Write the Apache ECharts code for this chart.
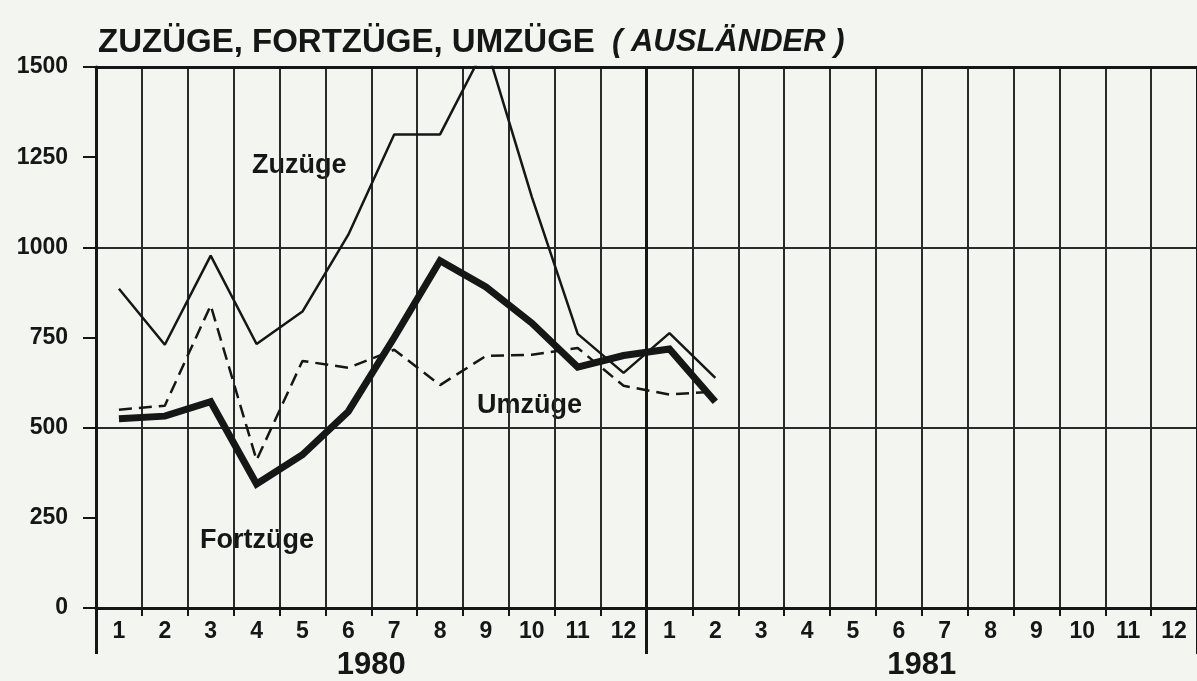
<!DOCTYPE html>
<html>
<head>
<meta charset="utf-8">
<title>Zuzüge, Fortzüge, Umzüge</title>
<script src="https://cdn.jsdelivr.net/npm/echarts@6/dist/echarts.min.js"></script>
<style>
  html, body { margin: 0; padding: 0; background: #f3f5f0; }
  #chart { width: 1197px; height: 681px; }
</style>
</head>
<body>
<div id="chart"></div>
<script>
// Monate 1980 + 1981
const months = ['1', '2', '3', '4', '5', '6', '7', '8', '9', '10', '11', '12',
  '1', '2', '3', '4', '5', '6', '7', '8', '9', '10', '11', '12']
const years = ['1980', '1981']
const yTicks = [0, 250, 500, 750, 1000, 1250, 1500]

const zuzuege = [885, 730, 977, 732, 822, 1035, 1313, 1313, 1560, 1140, 760, 652, 762, 638]
const fortzuege = [525, 532, 572, 344, 425, 545, 750, 963, 890, 790, 668, 700, 718, 572]
const umzuege = [550, 561, 839, 410, 685, 666, 716, 618, 699, 702, 721, 616, 592, 600]

const ink = '#161616'
const fontFamily = 'Liberation Sans, Arial, sans-serif'
const labelFont = { fontFamily: fontFamily, fontWeight: 'bold', color: ink }

const chart = echarts.init(document.getElementById('chart'), null, { renderer: 'canvas' })

const option = {
  backgroundColor: '#f3f5f0',
  animation: false,
  title: {
    left: 93,
    top: 21,
    text: '{a|ZUZÜGE, FORTZÜGE, UMZÜGE}{b|  ( AUSLÄNDER )}',
    textStyle: {
      rich: {
        a: { fontSize: 33, fontWeight: 'bold', fontFamily: fontFamily, color: ink },
        b: { fontSize: 31, fontStyle: 'italic', fontFamily: fontFamily, color: ink }
      }
    }
  },
  grid: { left: 96, top: 67, width: 1109, bottom: 69 },
  xAxis: [
    {
      // Monatsachse
      type: 'category',
      data: months,
      boundaryGap: true,
      axisLine: { lineStyle: { color: ink, width: 3 } },
      axisTick: { show: true, interval: 0, length: 8, lineStyle: { color: ink, width: 2 } },
      axisLabel: Object.assign({ interval: 0, fontSize: 23, margin: 12 }, labelFont),
      splitLine: { show: true, interval: 0, lineStyle: { color: '#2a2a2a', width: 2 } }
    },
    {
      // Jahre, mit langen Trennstrichen
      type: 'category',
      data: years,
      boundaryGap: true,
      position: 'bottom',
      axisLine: { show: false },
      axisTick: { show: true, length: 46, lineStyle: { color: ink, width: 3 } },
      axisLabel: Object.assign({ fontSize: 31, margin: 42 }, labelFont),
      splitLine: { show: true, lineStyle: { color: ink, width: 3 } }
    },
    {
      // oberer Rand
      type: 'category',
      data: months,
      position: 'top',
      axisLine: { lineStyle: { color: ink, width: 3 } },
      axisTick: { show: false },
      axisLabel: { show: false },
      splitLine: { show: false }
    }
  ],
  yAxis: [
    {
      type: 'value',
      min: yTicks[0],
      max: yTicks[yTicks.length - 1],
      interval: 250,
      axisLine: { show: true, lineStyle: { color: ink, width: 3 } },
      axisTick: { show: true, length: 13, lineStyle: { color: ink, width: 2 } },
      axisLabel: Object.assign({ fontSize: 23, margin: 28, formatter: function(v) { return String(v) } }, labelFont),
      splitLine: { show: false }
    },
    {
      // Gitterlinien nur alle 500
      type: 'value',
      min: 0,
      max: 1500,
      interval: 500,
      axisLine: { show: false },
      axisTick: { show: false },
      axisLabel: { show: false },
      splitLine: { show: true, lineStyle: { color: '#2a2a2a', width: 2 } }
    }
  ],
  series: [
    {
      name: 'Zuzüge',
      type: 'line',
      data: zuzuege,
      symbol: 'none',
      lineStyle: { color: ink, width: 2.5 },
      z: 3
    },
    {
      name: 'Fortzüge',
      type: 'line',
      data: fortzuege,
      symbol: 'none',
      lineStyle: { color: ink, width: 7, join: 'miter' },
      z: 4
    },
    {
      name: 'Umzüge',
      type: 'line',
      data: umzuege,
      symbol: 'none',
      lineStyle: { color: ink, width: 2.5, type: [13, 7] },
      z: 3
    }
  ],
  graphic: [
    { type: 'text', left: 252, top: 152, style: { text: 'Zuzüge', fontSize: 27, fontFamily: fontFamily, fontWeight: 'bold', fill: ink } },
    { type: 'text', left: 200, top: 527, style: { text: 'Fortzüge', fontSize: 27, fontFamily: fontFamily, fontWeight: 'bold', fill: ink } },
    { type: 'text', left: 477, top: 392, style: { text: 'Umzüge', fontSize: 27, fontFamily: fontFamily, fontWeight: 'bold', fill: ink } }
  ]
}

chart.setOption(option)
</script>
</body>
</html>
